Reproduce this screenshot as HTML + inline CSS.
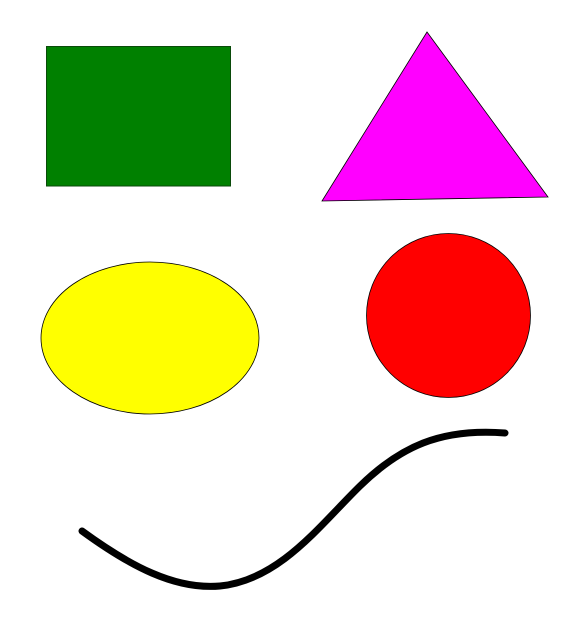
<!DOCTYPE html>
<html><head><meta charset="utf-8"><style>html,body{margin:0;padding:0;background:#fff;width:588px;height:643px;overflow:hidden}</style></head>
<body>
<svg width="588" height="643" viewBox="0 0 588 643">
<rect x="46.5" y="46.5" width="184" height="139.5" fill="#008000" stroke="#0a4a0a" stroke-width="1"/>
<polygon points="427,32 322,201 548,197" fill="#ff00ff" stroke="#000" stroke-width="0.8"/>
<ellipse cx="150" cy="338" rx="109" ry="76" fill="#ffff00" stroke="#000" stroke-width="0.8"/>
<circle cx="448.5" cy="315.5" r="82" fill="#ff0000" stroke="#000" stroke-width="0.8"/>
<path d="M82,531 C130,566 175,590 220,586 C280,580 320,525 360,486 C400,447 440,428 505,433" fill="none" stroke="#000" stroke-width="7" stroke-linecap="round"/>
</svg>
</body></html>
